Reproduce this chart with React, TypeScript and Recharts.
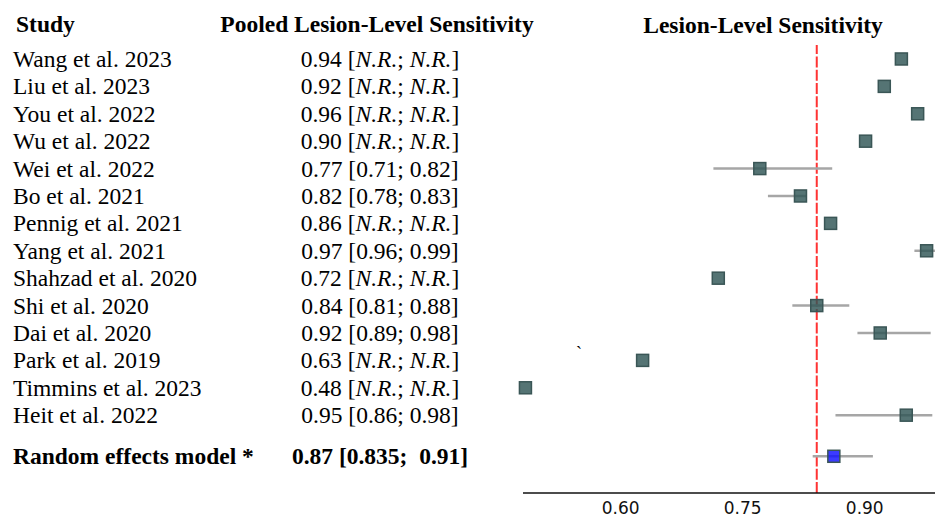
import React from 'react';
import { ScatterChart, Scatter, XAxis, YAxis, ErrorBar, ReferenceLine } from 'recharts';

const studies = [
  'Wang et al. 2023',
  'Liu et al. 2023',
  'You et al. 2022',
  'Wu et al. 2022',
  'Wei et al. 2022',
  'Bo et al. 2021',
  'Pennig et al. 2021',
  'Yang et al. 2021',
  'Shahzad et al. 2020',
  'Shi et al. 2020',
  'Dai et al. 2020',
  'Park et al. 2019',
  'Timmins et al. 2023',
  'Heit et al. 2022',
];

const estimateLabels = [
  '0.94 [N.R.; N.R.]',
  '0.92 [N.R.; N.R.]',
  '0.96 [N.R.; N.R.]',
  '0.90 [N.R.; N.R.]',
  '0.77 [0.71; 0.82]',
  '0.82 [0.78; 0.83]',
  '0.86 [N.R.; N.R.]',
  '0.97 [0.96; 0.99]',
  '0.72 [N.R.; N.R.]',
  '0.84 [0.81; 0.88]',
  '0.92 [0.89; 0.98]',
  '0.63 [N.R.; N.R.]',
  '0.48 [N.R.; N.R.]',
  '0.95 [0.86; 0.98]',
];

// marker positions and CI ends as drawn (null = not reported)
const pointValues = [0.945, 0.924, 0.965, 0.901, 0.771, 0.821, 0.858, 0.976, 0.72, 0.841, 0.919, 0.627, 0.483, 0.951];
const ciLow = [null, null, null, null, 0.714, 0.781, null, 0.961, null, 0.811, 0.891, null, null, 0.864];
const ciHigh = [null, null, null, null, 0.86, 0.829, null, 0.99, null, 0.881, 0.981, null, null, 0.983];

const pooledName = 'Random effects model *';
const pooledLabel = '0.87 [0.835;  0.91]';
const pooledValue = 0.862;
const pooledLow = 0.836;
const pooledHigh = 0.91;
const pooledRow = 14.5;

const referenceValue = 0.841;
const xTicks = [0.6, 0.75, 0.9];

const SERIF = '"Liberation Serif", "Times New Roman", serif';
const SANS = '"DejaVu Sans", sans-serif';

const studyData = studies.map((name, i) => {
  const x = pointValues[i];
  const lo = ciLow[i];
  const hi = ciHigh[i];
  return {
    name,
    x,
    y: i,
    err: lo !== null && hi !== null ? [x - lo, hi - x] : [0, 0],
  };
});

const pooledData = [
  { name: pooledName, x: pooledValue, y: pooledRow, err: [pooledValue - pooledLow, pooledHigh - pooledValue] },
];

const AXIS_Y = 493;

// italicise the "N.R." parts of a label
const renderLabel = (label: string) => {
  const parts = label.split(/(N\.R\.)/);
  return parts.map((p, i) =>
    p === 'N.R.' ? (
      <tspan key={i} fontStyle="italic">{p}</tspan>
    ) : (
      <tspan key={i}>{p}</tspan>
    )
  );
};

const RowTick = (props: any) => {
  const { y, payload } = props;
  const v = payload.value;
  const baseY = y + 8;
  if (v === pooledRow) {
    return (
      <g>
        <text x={13} y={baseY} fontFamily={SERIF} fontSize={23.5} fontWeight="bold" fill="#000">
          {pooledName}
        </text>
        <text x={380} y={baseY} fontFamily={SERIF} fontSize={23.5} fontWeight="bold" fill="#000"
          textAnchor="middle" style={{ whiteSpace: 'pre' }}>
          {pooledLabel}
        </text>
      </g>
    );
  }
  const idx = Math.round(v);
  return (
    <g>
      <text x={13} y={baseY} fontFamily={SERIF} fontSize={23.5} fill="#000">
        {studies[idx]}
      </text>
      <text x={380} y={baseY} fontFamily={SERIF} fontSize={23.5} fill="#000" textAnchor="middle">
        {renderLabel(estimateLabels[idx])}
      </text>
    </g>
  );
};

const ValueTick = (props: any) => {
  const { x, payload } = props;
  return (
    <text x={x} y={AXIS_Y + 21} fontFamily={SANS} fontSize={17} fill="#111" textAnchor="middle">
      {payload.value.toFixed(2)}
    </text>
  );
};

const squareShape = (fill: string) => (props: any) => {
  const { cx, cy } = props;
  return (
    <rect x={cx - 6} y={cy - 6} width={12} height={12} fill={fill} fillOpacity={0.82}
      stroke="#3a5656" strokeWidth={1.5} />
  );
};

export default function App() {
  return (
    <div style={{ position: 'absolute', left: 0, top: 0, width: 935, height: 520, overflow: 'hidden', background: '#fff' }}>
      <ScatterChart width={938} height={520} margin={{ top: 45, right: 0, bottom: 0, left: 8 }}>
        <XAxis
          type="number"
          dataKey="x"
          domain={[0.48, 0.99]}
          ticks={xTicks}
          height={27}
          tickLine={false}
          axisLine={{ stroke: '#111', strokeWidth: 1.5 }}
          tick={<ValueTick />}
        />
        <YAxis
          type="number"
          dataKey="y"
          domain={[-0.51, 15.84]}
          reversed
          width={515}
          ticks={[...studies.map((_, i) => i), pooledRow]}
          interval={0}
          axisLine={false}
          tickLine={false}
          tick={<RowTick />}
        />
        <ReferenceLine x={referenceValue} stroke="#ff3333" strokeWidth={2} strokeDasharray="11 2.3" />
        <Scatter data={studyData} isAnimationActive={false} shape={squareShape('#2f5555')}>
          <ErrorBar dataKey="err" direction="x" width={0} stroke="#a6a6a6" strokeWidth={2.5} />
        </Scatter>
        <Scatter data={pooledData} isAnimationActive={false} shape={squareShape('#1010ff')}>
          <ErrorBar dataKey="err" direction="x" width={0} stroke="#a6a6a6" strokeWidth={2.5} />
        </Scatter>
      </ScatterChart>
      <svg width={935} height={60} style={{ position: 'absolute', left: 0, top: 0, pointerEvents: 'none' }}>
        <text x={16} y={32} fontFamily={SERIF} fontSize={23.5} fontWeight="bold" fill="#000">Study</text>
        <text x={377} y={32} fontFamily={SERIF} fontSize={23.5} fontWeight="bold" fill="#000" textAnchor="middle">
          Pooled Lesion-Level Sensitivity
        </text>
        <text x={763} y={33} fontFamily={SERIF} fontSize={23.5} fontWeight="bold" fill="#000" textAnchor="middle">
          Lesion-Level Sensitivity
        </text>
      </svg>
      <svg width={20} height={20} style={{ position: 'absolute', left: 574, top: 342, pointerEvents: 'none' }}>
        <text x={2} y={17} fontFamily={SERIF} fontSize={18} fill="#000">`</text>
      </svg>
    </div>
  );
}
